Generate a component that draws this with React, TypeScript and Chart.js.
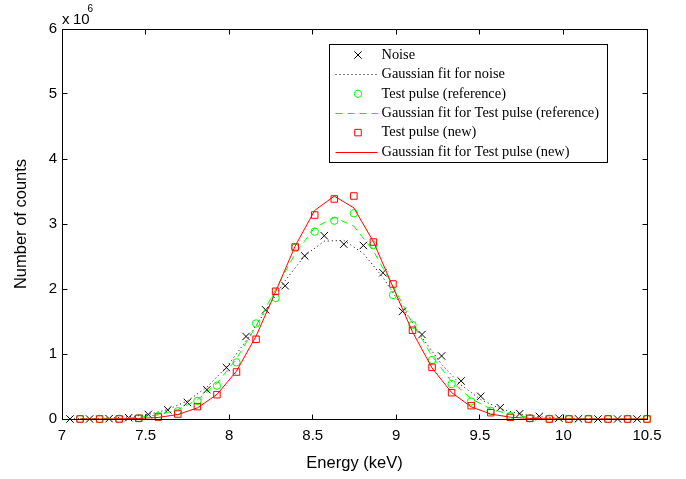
import React, { useEffect, useRef } from "react";
import { Chart, registerables } from "chart.js";

Chart.register(...registerables);

// ---- data (counts in units of 10^6) ----
const noiseEnergy = [7.048, 7.165, 7.282, 7.399, 7.516, 7.633, 7.75, 7.867, 7.984, 8.101, 8.218, 8.335, 8.452, 8.569, 8.686, 8.803, 8.92, 9.037, 9.154, 9.271, 9.388, 9.505, 9.622, 9.739, 9.856, 9.973, 10.09, 10.207, 10.324, 10.441];
const pulseEnergy = [7.108, 7.225, 7.342, 7.459, 7.576, 7.693, 7.81, 7.927, 8.044, 8.161, 8.278, 8.395, 8.512, 8.629, 8.746, 8.863, 8.98, 9.097, 9.214, 9.331, 9.448, 9.565, 9.682, 9.799, 9.916, 10.033, 10.15, 10.267, 10.384, 10.5];

const noiseCounts = [0, 0, 0.005, 0.02, 0.07, 0.14, 0.255, 0.45, 0.79, 1.27, 1.68, 2.05, 2.51, 2.82, 2.69, 2.67, 2.25, 1.655, 1.3, 0.97, 0.585, 0.35, 0.175, 0.083, 0.04, 0.012, 0.003, 0, 0, 0];
const noiseFit = [0.0017, 0.0048, 0.0129, 0.031, 0.07, 0.146, 0.278, 0.49, 0.797, 1.201, 1.664, 2.127, 2.513, 2.735, 2.749, 2.547, 2.179, 1.721, 1.255, 0.841, 0.522, 0.299, 0.157, 0.077, 0.035, 0.0144, 0.0055, 0.0019, 0.0006, 0.0002];

const refCounts = [0, 0, 0.003, 0.015, 0.045, 0.12, 0.277, 0.513, 0.872, 1.47, 1.862, 2.635, 2.882, 3.051, 3.165, 2.677, 1.908, 1.446, 0.908, 0.538, 0.27, 0.125, 0.048, 0.012, 0.003, 0, 0, 0, 0, 0];
const refFit = [0.001, 0.0032, 0.0095, 0.0258, 0.064, 0.144, 0.294, 0.548, 0.927, 1.427, 1.997, 2.542, 2.944, 3.1, 2.968, 2.585, 2.048, 1.475, 0.966, 0.576, 0.312, 0.154, 0.069, 0.028, 0.0104, 0.0035, 0.0011, 0.0003, 0.0001, 0];

const newCounts = [0, 0, 0, 0.01, 0.03, 0.077, 0.19, 0.374, 0.723, 1.226, 1.965, 2.646, 3.138, 3.385, 3.431, 2.723, 2.077, 1.365, 0.795, 0.405, 0.205, 0.097, 0.026, 0.01, 0, 0, 0, 0, 0, 0];
const newFit = [0.0001, 0.0005, 0.0022, 0.0078, 0.0246, 0.069, 0.171, 0.377, 0.736, 1.275, 1.957, 2.661, 3.209, 3.429, 3.249, 2.729, 2.032, 1.341, 0.785, 0.407, 0.187, 0.076, 0.0276, 0.0088, 0.0025, 0.0006, 0.0001, 0, 0, 0];

const xTicks = [7, 7.5, 8, 8.5, 9, 9.5, 10, 10.5];
const yTicks = [0, 1, 2, 3, 4, 5, 6];

const seriesLabels = [
  "Noise",
  "Gaussian fit for noise",
  "Test pulse (reference)",
  "Gaussian fit for Test pulse (reference)",
  "Test pulse (new)",
  "Gaussian fit for Test pulse (new)",
];

const SANS = '"Liberation Sans", Arial, Helvetica, sans-serif';
const SERIF = '"Liberation Serif", "Times New Roman", serif';

function pts(xs: number[], ys: number[]) {
  return xs.map((x, i) => ({ x, y: ys[i] }));
}

function drawMarker(ctx: CanvasRenderingContext2D, style: string, x: number, y: number, r: number, color: string) {
  ctx.save();
  ctx.strokeStyle = color;
  ctx.lineWidth = 1;
  ctx.beginPath();
  if (style === "crossRot") {
    const o = r * Math.SQRT1_2;
    ctx.moveTo(x - o, y - o);
    ctx.lineTo(x + o, y + o);
    ctx.moveTo(x - o, y + o);
    ctx.lineTo(x + o, y - o);
  } else if (style === "circle") {
    ctx.arc(x, y, r, 0, Math.PI * 2);
  } else {
    const s = r * Math.SQRT1_2;
    ctx.rect(x - s, y - s, 2 * s, 2 * s);
  }
  ctx.stroke();
  ctx.restore();
}

const framePlugin = {
  id: "matlabFrame",
  afterDraw(chart: any) {
    const { ctx, chartArea: a, scales } = chart;
    const L = Math.floor(a.left) + 0.5;
    const R = Math.floor(a.right) + 0.5;
    const T = Math.floor(a.top) + 0.5;
    const B = Math.floor(a.bottom) + 0.5;
    ctx.save();
    ctx.strokeStyle = "#000";
    ctx.lineWidth = 1;
    ctx.strokeRect(L, T, R - L, B - T);
    const tl = 5;
    ctx.beginPath();
    for (const v of xTicks) {
      const px = Math.floor(scales.x.getPixelForValue(v)) + 0.5;
      ctx.moveTo(px, B);
      ctx.lineTo(px, B - tl);
      ctx.moveTo(px, T);
      ctx.lineTo(px, T + tl);
    }
    for (const v of yTicks) {
      const py = Math.floor(scales.y.getPixelForValue(v)) + 0.5;
      ctx.moveTo(L, py);
      ctx.lineTo(L + tl, py);
      ctx.moveTo(R, py);
      ctx.lineTo(R - tl, py);
    }
    ctx.stroke();

    // exponent label
    ctx.fillStyle = "#000";
    ctx.textAlign = "left";
    ctx.textBaseline = "alphabetic";
    ctx.font = `15px ${SANS}`;
    ctx.fillText("x", a.left, a.top - 5);
    ctx.fillText("10", a.left + 11, a.top - 5);
    ctx.font = `10px ${SANS}`;
    ctx.fillText("6", a.left + 25.5, a.top - 17);

    // legend
    const items = chart.data.datasets;
    ctx.font = `14.4px ${SERIF}`;
    const maxW = Math.max(...items.map((d: any) => ctx.measureText(d.label).width));
    const boxLeft = Math.floor(a.left + 267) + 0.5;
    const boxTop = Math.floor(a.top + 15) + 0.5;
    const rowH = 19.4;
    const boxW = Math.round(52 + maxW + 8);
    const boxH = 118;
    ctx.fillStyle = "#fff";
    ctx.fillRect(boxLeft, boxTop, boxW, boxH);
    ctx.strokeStyle = "#000";
    ctx.strokeRect(boxLeft, boxTop, boxW, boxH);
    items.forEach((d: any, k: number) => {
      const y = boxTop + 10.5 + rowH * k;
      if (d.showLine === false) {
        drawMarker(ctx, d.pointStyle, boxLeft + 28.5, y, d.pointRadius, d.borderColor);
      } else {
        ctx.save();
        ctx.strokeStyle = d.borderColor;
        ctx.lineWidth = d.borderWidth;
        ctx.setLineDash(d.borderDash || []);
        ctx.beginPath();
        const yy = Math.floor(y) + 0.5;
        ctx.moveTo(boxLeft + 6, yy);
        ctx.lineTo(boxLeft + 48, yy);
        ctx.stroke();
        ctx.restore();
      }
      ctx.fillStyle = "#000";
      ctx.textAlign = "left";
      ctx.textBaseline = "middle";
      ctx.font = `14.4px ${SERIF}`;
      ctx.fillText(d.label, boxLeft + 52, y);
    });
    ctx.restore();
  },
};

export default function App() {
  const ref = useRef<HTMLCanvasElement | null>(null);

  useEffect(() => {
    if (!ref.current) return;
    Chart.defaults.font.family = SANS;
    const markerBase = { showLine: false, borderWidth: 1, pointBorderWidth: 1, backgroundColor: "rgba(0,0,0,0)", pointBackgroundColor: "rgba(0,0,0,0)", clip: false as any };
    const lineBase = { showLine: true, pointRadius: 0, borderWidth: 1, tension: 0, fill: false };
    const chart = new Chart(ref.current, {
      type: "line",
      data: {
        datasets: [
          { ...markerBase, label: seriesLabels[0], data: pts(noiseEnergy, noiseCounts), pointStyle: "crossRot", pointRadius: 5.2, borderColor: "#000000", pointBorderColor: "#000000", order: 6 },
          { ...lineBase, label: seriesLabels[1], data: pts(noiseEnergy, noiseFit), borderColor: "#000000", borderDash: [1, 3], order: 5 },
          { ...markerBase, label: seriesLabels[2], data: pts(pulseEnergy, refCounts), pointStyle: "circle", pointRadius: 3.7, borderColor: "#00ff00", pointBorderColor: "#00ff00", order: 4 },
          { ...lineBase, label: seriesLabels[3], data: pts(pulseEnergy, refFit), borderColor: "#00ff00", borderDash: [7, 5], order: 3 },
          { ...markerBase, label: seriesLabels[4], data: pts(pulseEnergy, newCounts), pointStyle: "rect", pointRadius: 4.6, borderColor: "#ff0000", pointBorderColor: "#ff0000", order: 2 },
          { ...lineBase, label: seriesLabels[5], data: pts(pulseEnergy, newFit), borderColor: "#ff0000", order: 1 },
        ] as any,
      },
      options: {
        animation: false,
        responsive: false,
        maintainAspectRatio: false,
        layout: { padding: { top: 29, right: 39, left: 0, bottom: 0 } },
        plugins: { legend: { display: false }, tooltip: { enabled: false } },
        scales: {
          x: {
            type: "linear",
            min: 7,
            max: 10.5,
            afterBuildTicks: (s: any) => { s.ticks = xTicks.map((v) => ({ value: v })); },
            afterFit: (s: any) => { s.height = 60; },
            grid: { display: false, drawTicks: false },
            border: { display: false },
            ticks: { color: "#000", font: { family: SANS, size: 15 }, padding: 8, autoSkip: false, maxRotation: 0, callback: (v: any) => String(v) },
            title: { display: true, text: "Energy (keV)", color: "#000", font: { family: SANS, size: 16.5 }, padding: { top: 0, bottom: 6 } },
          },
          y: {
            type: "linear",
            min: 0,
            max: 6,
            afterBuildTicks: (s: any) => { s.ticks = yTicks.map((v) => ({ value: v })); },
            afterFit: (s: any) => { s.width = 62; },
            grid: { display: false, drawTicks: false },
            border: { display: false },
            ticks: { color: "#000", font: { family: SANS, size: 15 }, padding: 5, callback: (v: any) => String(v) },
            title: { display: true, text: "Number of counts", color: "#000", font: { family: SANS, size: 16.5 }, padding: { top: 12, bottom: 0 } },
          },
        },
      } as any,
      plugins: [framePlugin],
    });
    return () => chart.destroy();
  }, []);

  return (
    <div style={{ position: "fixed", left: 0, top: 0, width: 686, height: 479, background: "#fff" }}>
      <canvas ref={ref} width={686} height={479} style={{ width: 686, height: 479, display: "block" }} />
    </div>
  );
}
